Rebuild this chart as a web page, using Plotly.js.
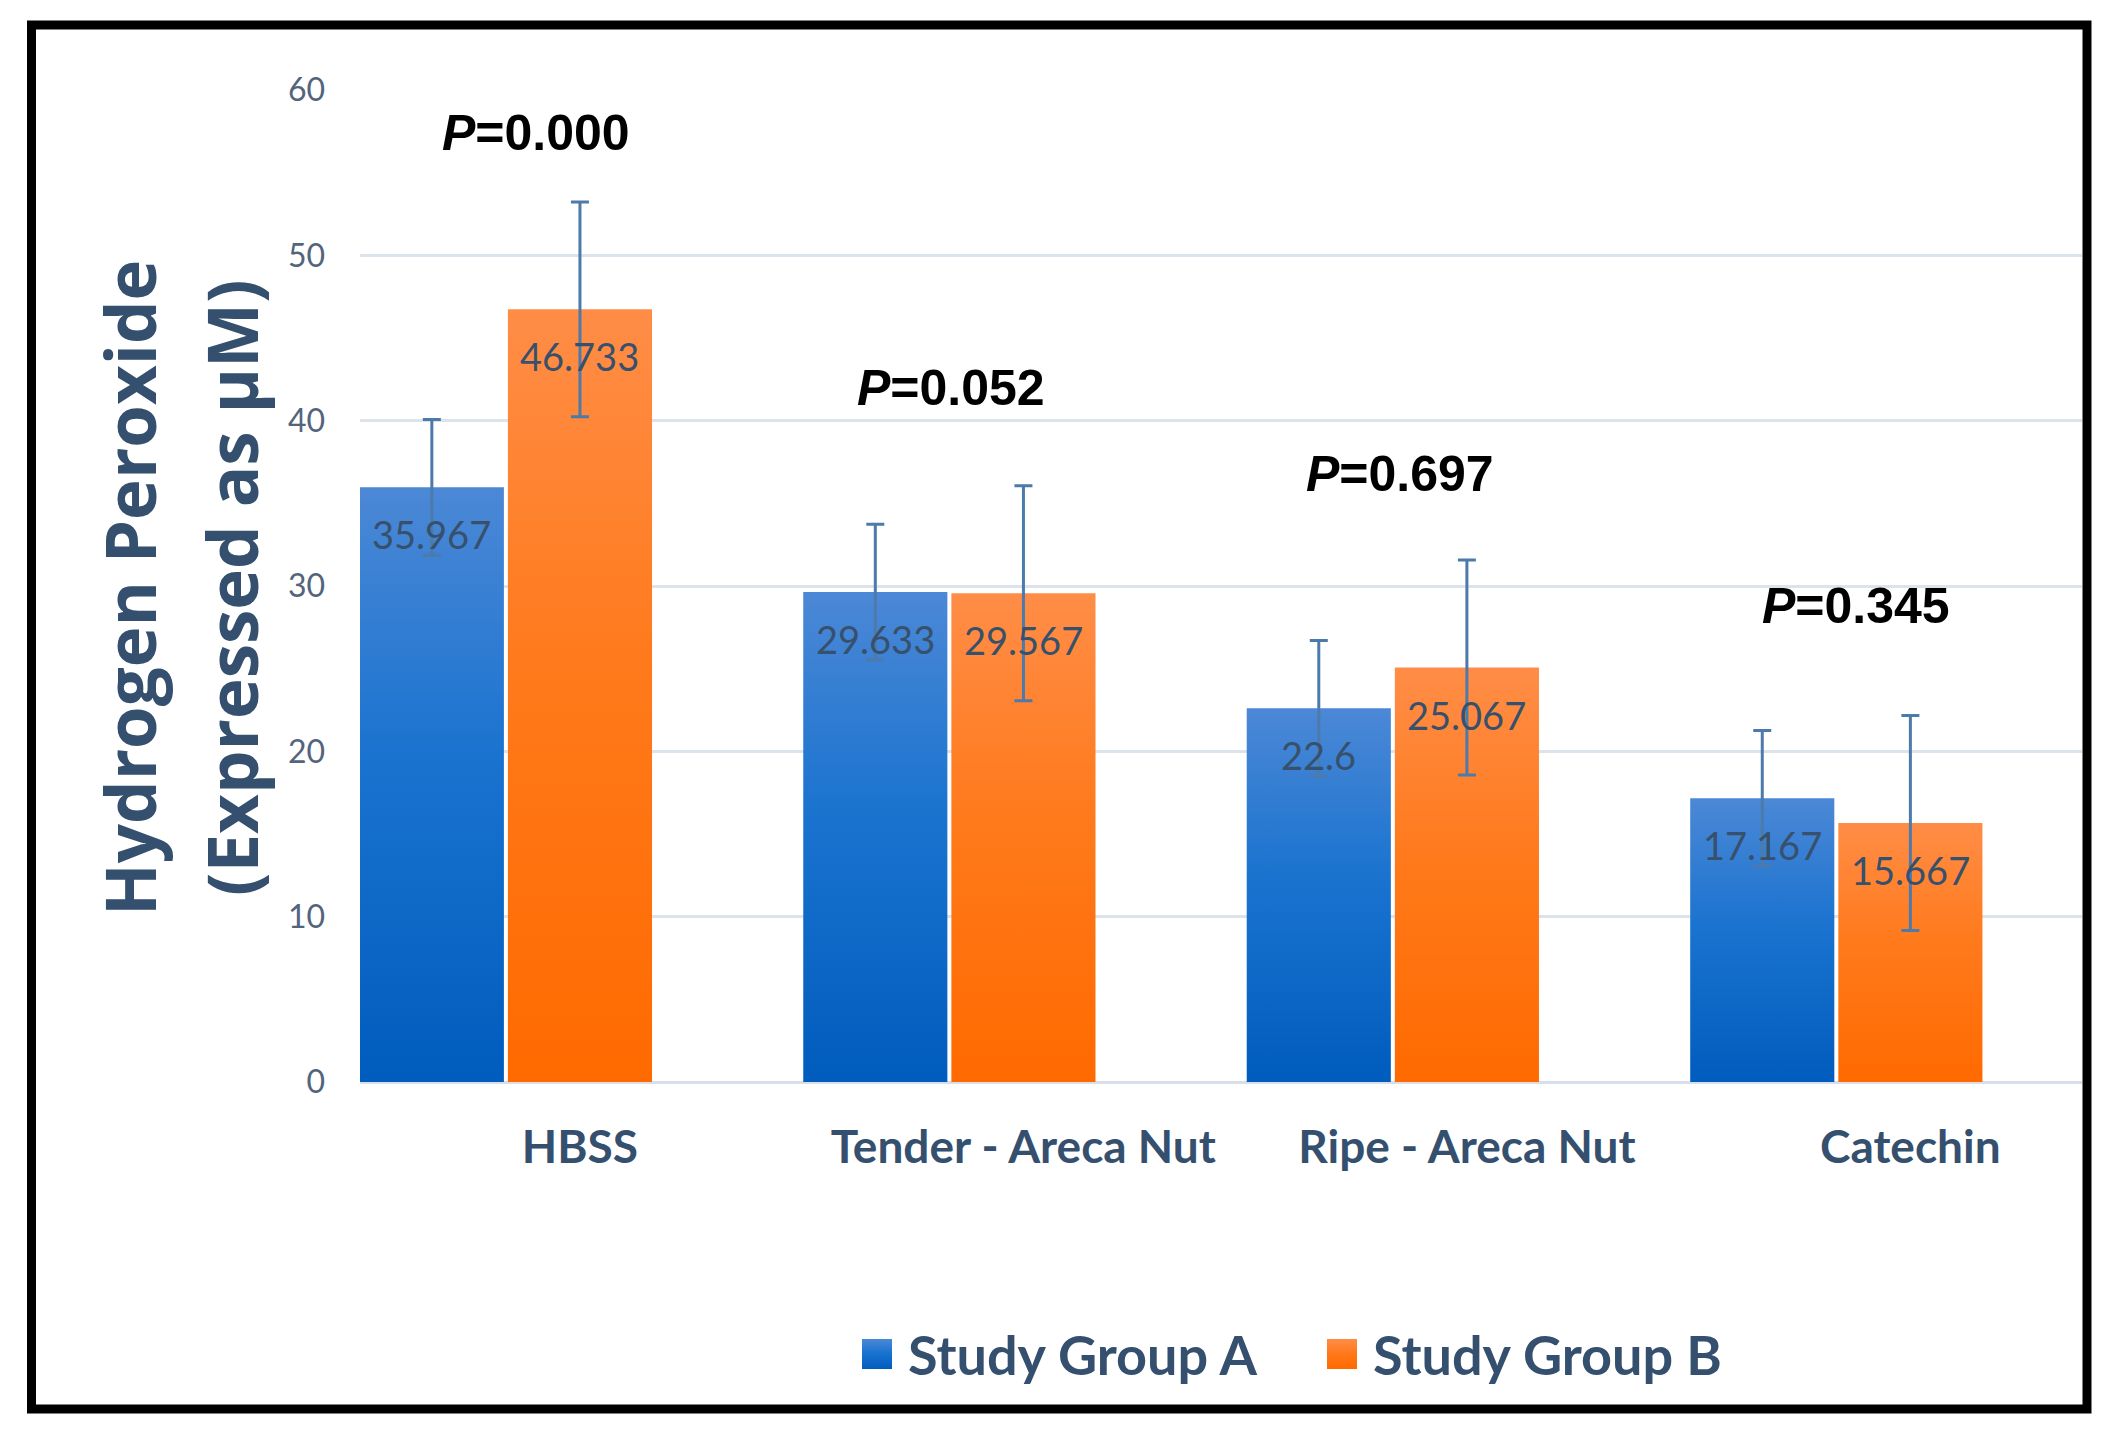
<!DOCTYPE html>
<html>
<head>
<meta charset="utf-8">
<script src="https://cdn.plot.ly/plotly-3.0.1.min.js"></script>
<style>
  html, body { margin: 0; padding: 0; background: #ffffff; }
  #chart { width: 2113px; height: 1440px; }
</style>
</head>
<body>
<div id="chart"></div>
<script>
// ---------------- DATA ----------------
const categories = ['HBSS', 'Tender - Areca Nut', 'Ripe - Areca Nut', 'Catechin'];
const seriesNames = ['Study Group A', 'Study Group B'];
const groupA = [35.967, 29.633, 22.6, 17.167];
const groupB = [46.733, 29.567, 25.067, 15.667];
const errA = [4.1, 4.1, 4.1, 4.1];
const errB = [6.5, 6.5, 6.5, 6.5];
const pValues = ['0.000', '0.052', '0.697', '0.345'];
const yTickVals = [0, 10, 20, 30, 40, 50, 60];

// ---------------- LAYOUT CONSTANTS ----------------
const W = 2113, H = 1440;
const M = { l: 360, r: 31, t: 90, b: 358 };
const PW = W - M.l - M.r, PH = H - M.t - M.b;
const pxX = px => (px - M.l) / PW;
const pxY = py => (H - M.b - py) / PH;

const BARGAP = 0.332, BARGROUPGAP = 0.027;
const XRANGE = [-0.329, 3.554];
const slot = (1 - BARGAP) / 2;
const offsets = [-slot / 2, slot / 2];

const pLabelY = [57.4, 42.0, 36.8, 28.8];
const pLabelShift = [30, 2, 7, 20];

// legend geometry (pixels): square left edge for each item, row centre, square size
const legendSquareX = [862, 1327];
const legendRowY = 1354;
const legendSq = 30;

const TXT = '#34506e';
const colors = ['#1f73cf', '#ff7a1a'];
const gradStops = [
  [['0', '#4c88d6'], ['0.45', '#1a73cf'], ['1', '#005cbd']],
  [['0', '#ff8d47'], ['0.45', '#ff7a1c'], ['1', '#ff6a00']]
];

const values = [groupA, groupB];
const errs = [errA, errB];

const data = values.map((v, i) => ({
  type: 'bar',
  name: seriesNames[i],
  x: categories,
  y: v,
  marker: { color: colors[i], line: { width: 0 } },
  error_y: { type: 'data', array: errs[i], visible: true, color: '#4c7aaa', thickness: 3, width: 9 },
  hoverinfo: 'skip',
  showlegend: false
}));

const annotations = [];
// data labels
values.forEach((v, i) => {
  v.forEach((val, j) => {
    annotations.push({
      xref: 'x', yref: 'y', x: j + offsets[i], y: val,
      yshift: -47, showarrow: false, text: String(val),
      font: { family: 'Lato, sans-serif', size: 38, color: '#37506b' },
      xanchor: 'center', yanchor: 'middle'
    });
  });
});
// p-values
pValues.forEach((p, j) => {
  annotations.push({
    xref: 'x', yref: 'y', x: categories[j], y: pLabelY[j], xshift: pLabelShift[j],
    showarrow: false, text: '<i>P</i>=' + p,
    font: { family: 'Liberation Sans, Arial, sans-serif', size: 50, color: '#000000', weight: 700 },
    xanchor: 'center', yanchor: 'middle'
  });
});
// y title (two lines)
[['Hydrogen Peroxide', 129], ['(Expressed as µM)', 231]].forEach(([t, px]) => {
  annotations.push({
    xref: 'paper', yref: 'paper', x: pxX(px), y: pxY(588),
    showarrow: false, text: t, textangle: -90,
    font: { family: 'Open Sans, sans-serif', size: 69, color: TXT, weight: 700 },
    xanchor: 'center', yanchor: 'middle'
  });
});
// legend text
seriesNames.forEach((n, i) => {
  annotations.push({
    xref: 'paper', yref: 'paper', x: pxX(legendSquareX[i] + legendSq + 14), y: pxY(legendRowY),
    showarrow: false, text: n,
    font: { family: 'Lato, sans-serif', size: 54, color: TXT, weight: 700 },
    xanchor: 'left', yanchor: 'middle'
  });
});

const shapes = [{
  type: 'rect', xref: 'paper', yref: 'paper',
  x0: pxX(31.5), x1: pxX(2087), y0: pxY(1409), y1: pxY(25),
  line: { color: '#000000', width: 9 }, fillcolor: 'rgba(0,0,0,0)', layer: 'above'
}];
seriesNames.forEach((n, i) => {
  shapes.push({
    type: 'rect', xref: 'paper', yref: 'paper',
    x0: pxX(legendSquareX[i]), x1: pxX(legendSquareX[i] + legendSq),
    y0: pxY(legendRowY + legendSq / 2), y1: pxY(legendRowY - legendSq / 2),
    line: { width: 0 }, fillcolor: colors[i], layer: 'above'
  });
});

const layout = {
  width: W, height: H,
  margin: M,
  paper_bgcolor: '#ffffff', plot_bgcolor: '#ffffff',
  barmode: 'group', bargap: BARGAP, bargroupgap: BARGROUPGAP,
  showlegend: false,
  xaxis: {
    type: 'category', range: XRANGE,
    showgrid: false, showline: false, zeroline: false, ticks: '',
    tickfont: { family: 'Lato, sans-serif', size: 46, color: TXT, weight: 700 },
    ticklabelshift: Math.round(slot / 2 * PW / (XRANGE[1] - XRANGE[0])),
    ticklabelstandoff: 34, fixedrange: true
  },
  yaxis: {
    range: [0, 60], tickvals: yTickVals, ticktext: yTickVals.map(String),
    showgrid: true, gridcolor: '#dde3ea', gridwidth: 3,
    zeroline: true, zerolinecolor: '#d8dfe8', zerolinewidth: 3,
    showline: false, ticks: '',
    tickfont: { family: 'Lato, sans-serif', size: 32, color: '#52657c' },
    ticklabelstandoff: 34, fixedrange: true
  },
  annotations: annotations,
  shapes: shapes
};

const gd = document.getElementById('chart');
Plotly.newPlot(gd, data, layout, { staticPlot: true, displayModeBar: false }).then(() => {
  const ns = 'http://www.w3.org/2000/svg';
  const svg = gd.querySelector('.main-svg');
  let defs = svg.querySelector('defs');
  if (!defs) { defs = document.createElementNS(ns, 'defs'); svg.insertBefore(defs, svg.firstChild); }
  gradStops.forEach((stops, i) => {
    const g = document.createElementNS(ns, 'linearGradient');
    g.setAttribute('id', 'barGrad' + i);
    g.setAttribute('x1', '0'); g.setAttribute('y1', '0');
    g.setAttribute('x2', '0'); g.setAttribute('y2', '1');
    stops.forEach(([o, c]) => {
      const s = document.createElementNS(ns, 'stop');
      s.setAttribute('offset', o); s.setAttribute('stop-color', c);
      g.appendChild(s);
    });
    defs.appendChild(g);
  });
  gd.querySelectorAll('.barlayer .trace').forEach((t, i) => {
    t.querySelectorAll('path').forEach(p => { p.style.fill = 'url(#barGrad' + i + ')'; });
  });
  gd.querySelectorAll('.shapelayer path').forEach(p => {
    const idx = parseInt(p.getAttribute('data-index'), 10);
    if (idx >= 1 && idx <= seriesNames.length) {
      p.style.fill = 'url(#barGrad' + (idx - 1) + ')';
      p.style.fillOpacity = 1;
    }
  });
});
</script>
</body>
</html>
